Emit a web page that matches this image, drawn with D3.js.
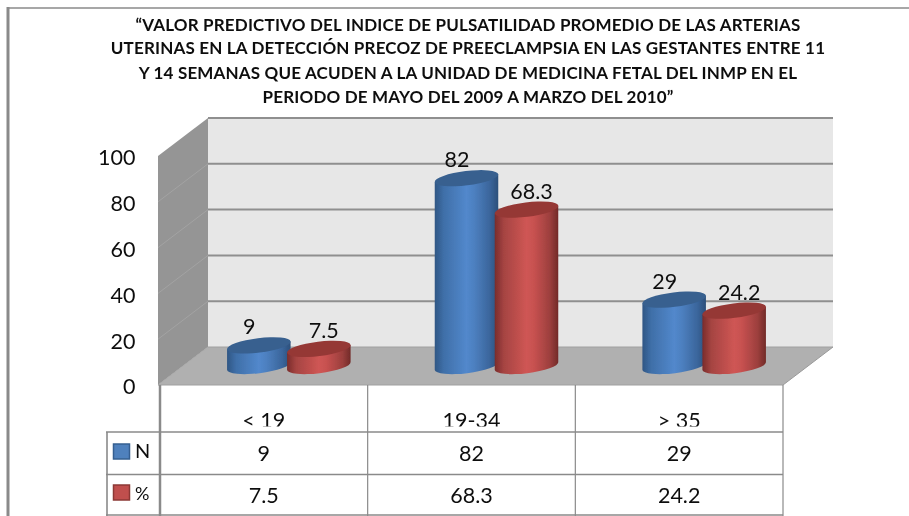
<!DOCTYPE html>
<html><head><meta charset="utf-8">
<script src="https://cdn.jsdelivr.net/npm/d3@7/dist/d3.min.js"></script>
<style>html,body{margin:0;padding:0;background:#fff}svg{display:block}text{font-family:Lato,"Open Sans",sans-serif;fill:#111}</style>
</head><body><svg id="c" width="909" height="516"></svg>
<script>
const titleLines = ["“VALOR PREDICTIVO DEL INDICE DE PULSATILIDAD PROMEDIO DE LAS ARTERIAS",
 "UTERINAS EN LA DETECCIÓN PRECOZ DE PREECLAMPSIA EN LAS GESTANTES ENTRE 11",
 "Y 14 SEMANAS QUE ACUDEN A LA UNIDAD DE MEDICINA FETAL DEL INMP EN EL",
 "PERIODO DE MAYO DEL 2009 A MARZO DEL 2010”"];
const categories = ["< 19", "19-34", "> 35"];
const seriesNames = ["N", "%"];
const valuesN = [9, 82, 29];
const valuesPct = [7.5, 68.3, 24.2];
const yTicks = [0, 20, 40, 60, 80, 100];

const svg = d3.select("#c");
const defs = svg.append("defs");
const soft = defs.append("filter").attr("id","soft").attr("x","-5%").attr("y","-5%").attr("width","110%").attr("height","110%");
soft.append("feGaussianBlur").attr("stdDeviation",0.35);
const root = svg.append("g").attr("filter","url(#soft)");

const GREY="#8a8a8a";
const depthX=50, depthY=38;
const x = d3.scaleBand().domain(categories).range([160,783]);
const y = d3.scaleLinear().domain([0,100]).range([385,156]);
const colors = {
  N:{stops:["#2f5684","#3f6fa8","#5288cc","#4d80c0","#3a659b","#2c4f7a"],top:"#38608f",swatch:"#4f81bd",edge:"#355f91"},
  "%":{stops:["#7a2c2b","#a54442","#cf5654","#c75150","#9c3f3d","#722a28"],top:"#953735",swatch:"#c0504d",edge:"#8c3836"}
};
seriesNames.forEach(s=>{
  const g=defs.append("linearGradient").attr("id","g"+(s==="N"?"N":"P"));
  colors[s].stops.forEach((c,i)=>g.append("stop").attr("offset",[0,.14,.5,.62,.87,1][i]).attr("stop-color",c));
});

// frame
root.append("line").attr("x1",8).attr("x2",8).attr("y1",7).attr("y2",516).attr("stroke",GREY).attr("stroke-width",3);
root.append("line").attr("x1",8).attr("x2",909).attr("y1",8).attr("y2",8).attr("stroke",GREY).attr("stroke-width",1.5);

// title
root.append("g").selectAll("text").data(titleLines).join("text")
  .attr("x",468).attr("y",(d,i)=>[30.5,53.5,78.5,103][i]).attr("text-anchor","middle")
  .attr("font-size",17).attr("letter-spacing",0.17).attr("font-weight",700).text(d=>d);

// walls
const x0=x.range()[0]-2, x1=x.range()[1];
const poly=p=>"M"+p.map(q=>q.join(",")).join("L")+"Z";
root.append("path").attr("d",poly([[x0,y(100)],[x0+depthX,y(100)-depthY],[x0+depthX,y(0)-depthY],[x0,y(0)]])).attr("fill","#959595");
root.append("path").attr("d",poly([[x0+depthX,y(100)-depthY],[x1+depthX,y(100)-depthY],[x1+depthX,y(0)-depthY],[x0+depthX,y(0)-depthY]])).attr("fill","#e7e7e7");
root.append("path").attr("d",poly([[x0,y(0)],[x0+depthX,y(0)-depthY],[x1+depthX,y(0)-depthY],[x1,y(0)]])).attr("fill","#b0b0b0");
root.selectAll(".gb").data(yTicks).join("line").attr("x1",x0+depthX).attr("x2",x1+depthX)
  .attr("y1",d=>y(d)-depthY).attr("y2",d=>y(d)-depthY).attr("stroke",d=>d===0?"#a0a0a0":"#8f8f8f").attr("stroke-width",d=>d===0?1:2);
root.selectAll(".gs").data(yTicks.slice(1,-1)).join("line").attr("x1",x0).attr("x2",x0+depthX)
  .attr("y1",d=>y(d)).attr("y2",d=>y(d)-depthY).attr("stroke","#a3a3a3").attr("stroke-width",1);
root.append("line").attr("x1",x0).attr("x2",x0+depthX).attr("y1",y(0)).attr("y2",y(0)-depthY).attr("stroke","#a8a8a8");
root.append("line").attr("x1",x1).attr("x2",x1+depthX).attr("y1",y(0)).attr("y2",y(0)-depthY).attr("stroke","#999");
root.append("line").attr("x1",x0).attr("x2",x1).attr("y1",y(0)).attr("y2",y(0)).attr("stroke","#a0a0a0");

// y axis
const ax=root.append("g").attr("transform",`translate(135.5,2)`)
  .call(d3.axisLeft(y).tickValues(yTicks).tickSize(0).tickPadding(0));
ax.select(".domain").remove();
ax.selectAll("text").attr("font-size",21.5).style("font-family","Lato,'Open Sans',sans-serif").attr("fill","#111");

// cylinders
const rx=32, ry=7.2, tilt=-7, rad=tilt*Math.PI/180;
const dx=rx*Math.cos(rad), dy=rx*Math.sin(rad);
const offset=[-30,30];
function cyl(s,vals,idx){
  const g=root.append("g");
  vals.forEach((v,i)=>{
    const cx=x(categories[i])+x.bandwidth()/2+depthX/2+offset[idx];
    const base=y(0)-depthY/2, top=y(v)-depthY/2;
    g.append("path").attr("d",`M${cx-dx},${top-dy}L${cx-dx},${base-dy}A${rx},${ry} ${tilt} 0 0 ${cx+dx},${base+dy}L${cx+dx},${top+dy}Z`)
      .attr("fill",`url(#g${s==="N"?"N":"P"})`);
    g.append("ellipse").attr("rx",rx).attr("ry",ry).attr("transform",`translate(${cx},${top}) rotate(${tilt})`).attr("fill",colors[s].top);
  });
}
cyl("N",valuesN,0); cyl("%",valuesPct,1);

// data labels
function labels(vals,idx){
  root.append("g").selectAll("text").data(vals).join("text")
    .attr("x",(d,i)=>x(categories[i])+x.bandwidth()/2+depthX/2+offset[idx]+(idx?5:-9.5))
    .attr("y",d=>y(d)-depthY/2-11).attr("text-anchor","middle").attr("font-size",21.5).text(d=>d);
}
labels(valuesN,0); labels(valuesPct,1);

// data table
const rows=[385,432,474.5,515];
const colX=[...categories.map(c=>x(c)),x1];
const t=root.append("g");
t.selectAll(".c").data(colX).join("line").attr("x1",d=>d).attr("x2",d=>d).attr("y1",rows[0]).attr("y2",516)
  .attr("stroke",GREY).attr("stroke-width",(d,i)=>i===0?2.5:1.2);
[rows[1],rows[2],rows[3]].forEach(r=>t.append("line").attr("x1",106).attr("x2",x1).attr("y1",r).attr("y2",r).attr("stroke",GREY).attr("stroke-width",1.6));
t.append("line").attr("x1",107).attr("x2",107).attr("y1",rows[1]).attr("y2",516).attr("stroke",GREY).attr("stroke-width",1.6);
// category labels, clipped by the table row as in the reference
const clip=defs.append("clipPath").attr("id","catclip");
clip.append("rect").attr("x",160).attr("y",rows[0]).attr("width",623).attr("height",41.5);
t.append("g").attr("clip-path","url(#catclip)").selectAll("text").data(categories).join("text")
  .attr("x",d=>x(d)+x.bandwidth()/2).attr("y",428).attr("text-anchor","middle").attr("font-size",21.5).text(d=>d);
[valuesN,valuesPct].forEach((vals,r)=>{
  t.append("g").selectAll("text").data(vals).join("text")
    .attr("x",(d,i)=>x(categories[i])+x.bandwidth()/2).attr("y",[461,503][r]).attr("text-anchor","middle").attr("font-size",21.5).text(d=>d);
});
seriesNames.forEach((s,r)=>{
  const yy=[444,485][r];
  t.append("rect").attr("x",113.5).attr("y",yy).attr("width",16).attr("height",15).attr("fill",colors[s].swatch).attr("stroke",colors[s].edge).attr("stroke-width",1.5);
  t.append("text").attr("x",135).attr("y",[458,500][r]).attr("font-size",r?18:20).text(s);
});
</script></body></html>
